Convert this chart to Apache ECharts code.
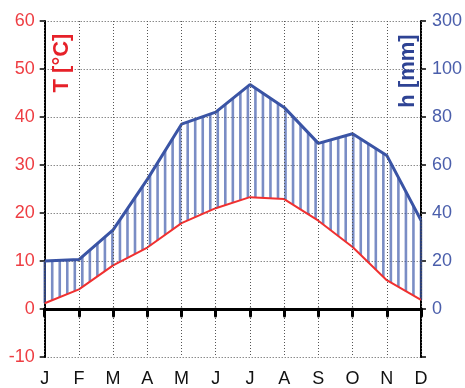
<!DOCTYPE html>
<html>
<head>
<meta charset="utf-8">
<script src="https://cdn.jsdelivr.net/npm/echarts@6/dist/echarts.min.js"></script>
<style>
html,body{margin:0;padding:0;background:#fff;}
#c{width:465px;height:388px;}
</style>
</head>
<body>
<div id="c"></div>
<script>
const months = ['J','F','M','A','M','J','J','A','S','O','N','D'];
const temp = [1.2, 4.1, 9.1, 12.8, 17.9, 21.0, 23.3, 22.9, 18.4, 12.9, 6.0, 1.9];
const precip = [20, 20.6, 33, 54, 77, 82, 93.5, 84, 69, 73, 64, 37];
const tempTicks = [-10, 0, 10, 20, 30, 40, 50, 60];
const precipLabels = {'-20': '', '0': '0', '20': '20', '40': '40', '60': '60', '80': '80', '100': '100', '120': '300'};

const FONT = 'Liberation Sans, Arial, Helvetica, sans-serif';
const RED = '#ee3d42';
const BLUE = '#3a54a5';

const chart = echarts.init(document.getElementById('c'), null, {renderer: 'canvas'});

function hatch(params, api) {
  const n = months.length;
  const pP = [], pT = [];
  for (let i = 0; i < n; i++) {
    pP.push(api.coord([i, precip[i]]));
    pT.push(api.coord([i, temp[i] * 2]));
  }
  const N = 50;
  const children = [];
  for (let k = 0; k <= N; k++) {
    const f = k * (n - 1) / N;
    const i = Math.min(Math.floor(f), n - 2);
    const t = f - i;
    const x = pP[i][0] + (pP[i + 1][0] - pP[i][0]) * t;
    const yTop = pP[i][1] + (pP[i + 1][1] - pP[i][1]) * t;
    const yBot = pT[i][1] + (pT[i + 1][1] - pT[i][1]) * t;
    children.push({
      type: 'line',
      shape: {x1: x, y1: yTop, x2: x, y2: yBot},
      style: {stroke: 'rgba(66,92,172,0.7)', lineWidth: 2.6}
    });
  }
  return {type: 'group', children: children};
}

chart.setOption({
  animation: false,
  backgroundColor: '#fff',
  grid: {left: 44.7, right: 41, top: 21, bottom: 29, containLabel: false},
  xAxis: [
    {
      type: 'category', data: months, boundaryGap: false, position: 'bottom',
      axisLine: {show: true, onZero: true, lineStyle: {color: '#000', width: 3}},
      axisTick: {show: true, length: 7, lineStyle: {color: '#000', width: 3, cap: 'round'}},
      axisLabel: {show: false},
      splitLine: {show: true, lineStyle: {color: '#555', type: [1, 2], width: 1}},
      z: 5
    },
    {
      type: 'category', data: months, boundaryGap: false, position: 'bottom',
      axisLine: {show: false, onZero: false},
      axisTick: {show: false},
      axisLabel: {show: true, color: '#111', fontSize: 18, fontFamily: FONT, margin: 13},
      splitLine: {show: false}
    }
  ],
  yAxis: [
    {
      type: 'value', min: -10, max: 60, interval: 10, position: 'left',
      axisLine: {show: true, lineStyle: {color: '#000', width: 2}},
      axisTick: {show: true, length: 5, lineStyle: {color: '#000', width: 1.5}},
      axisLabel: {color: RED, fontSize: 18, fontFamily: FONT, margin: 10,
        formatter: v => tempTicks.includes(v) ? String(v) : ''},
      splitLine: {show: true, lineStyle: {color: '#555', type: [1, 2], width: 1}}
    },
    {
      type: 'value', min: -20, max: 120, interval: 20, position: 'right',
      axisLine: {show: true, lineStyle: {color: '#000', width: 2}},
      axisTick: {show: true, length: 5, lineStyle: {color: '#000', width: 1.5}},
      axisLabel: {color: '#4a5eab', fontSize: 18, fontFamily: FONT, margin: 11,
        formatter: v => precipLabels[String(v)] !== undefined ? precipLabels[String(v)] : ''},
      splitLine: {show: false}
    }
  ],
  series: [
    {
      type: 'custom', name: 'hatch', xAxisIndex: 0, yAxisIndex: 1,
      renderItem: hatch, data: [[0, 0]], silent: true, z: 1, clip: false
    },
    {
      type: 'line', name: 'T', data: temp, xAxisIndex: 0, yAxisIndex: 0,
      symbol: 'none', lineStyle: {color: '#f03030', width: 2}, z: 3
    },
    {
      type: 'line', name: 'h', data: precip, xAxisIndex: 0, yAxisIndex: 1,
      symbol: 'none', lineStyle: {color: BLUE, width: 3}, z: 4
    }
  ],
  graphic: [
    {
      type: 'text', x: 62, y: 63, rotation: Math.PI / 2, z: 10,
      style: {text: 'T [°C]', fill: '#e62129', font: 'bold 22px ' + FONT, align: 'center', verticalAlign: 'middle'}
    },
    {
      type: 'text', x: 408, y: 71, rotation: Math.PI / 2, z: 10,
      style: {text: 'h [mm]', fill: '#2e4394', font: 'bold 22px ' + FONT, align: 'center', verticalAlign: 'middle'}
    }
  ]
});
</script>
</body>
</html>
